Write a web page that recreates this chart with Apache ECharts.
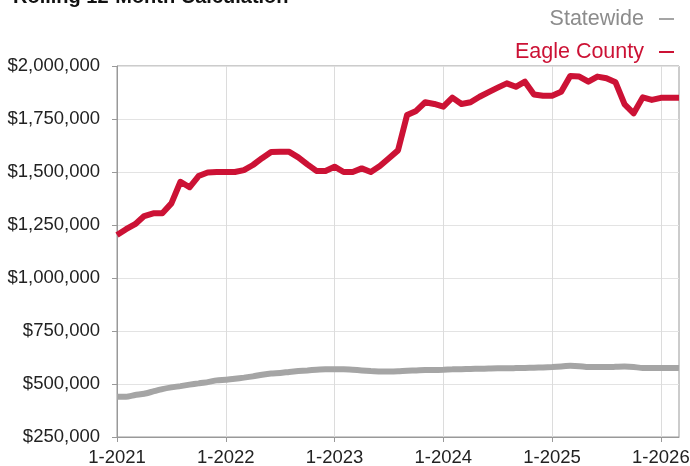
<!DOCTYPE html>
<html>
<head>
<meta charset="utf-8">
<script src="https://cdn.jsdelivr.net/npm/echarts@6/dist/echarts.min.js"></script>
<style>
  html, body { margin: 0; padding: 0; background: #fff; }
  #main { width: 690px; height: 466px; }
</style>
</head>
<body>
<div id="main"></div>
<script>
// Datos: mediana de precio, cálculo móvil de 12 meses (1-2021 a 3-2026)
const startYear = 2021;
const months = [];
for (let i = 0; i < 63; i++) {
  months.push(((i % 12) + 1) + "-" + (startYear + Math.floor(i / 12)));
}

const eagleCounty = [
  1203000, 1230000, 1254000, 1292000, 1305000, 1305000, 1352000, 1454000, 1428000, 1481000, 1498000, 1500000,
  1500000, 1500000, 1509000, 1533000, 1565000, 1594000, 1596000, 1595000, 1569000, 1536000, 1505000, 1505000,
  1525000, 1500000, 1500000, 1517000, 1500000, 1528000, 1565000, 1602000, 1769000, 1788000, 1829000, 1821000,
  1808000, 1851000, 1821000, 1829000, 1855000, 1877000, 1898000, 1918000, 1902000, 1926000, 1866000, 1860000,
  1860000, 1879000, 1953000, 1950000, 1926000, 1950000, 1942000, 1923000, 1819000, 1777000, 1852000, 1840000,
  1850000, 1850000, 1850000
];

const statewide = [
  440000, 440000, 448000, 454000, 465000, 476000, 484000, 490000, 497000, 503000, 509000, 517000,
  520000, 525000, 530000, 536000, 544000, 550000, 552000, 557000, 561000, 564000, 567000, 569000,
  569000, 569000, 567000, 564000, 561000, 559000, 559000, 560000, 563000, 564000, 566000, 566000,
  567000, 569000, 570000, 571000, 572000, 573000, 574000, 574000, 575000, 576000, 577000, 578000,
  580000, 583000, 586000, 584000, 580000, 580000, 580000, 581000, 582000, 580000, 576000, 576000,
  576000, 576000, 575000
];

const yTicks = { min: 250000, max: 2000000, step: 250000 };

const RED = "#cc1235";
const GREY = "#a5a5a5";
const FONT = "Liberation Sans";

const chart = echarts.init(document.getElementById("main"));

const isJanuary = (index) => index % 12 === 0;

const option = {
  animation: false,
  textStyle: { fontFamily: FONT },
  title: {
    text: "Rolling 12-Month Calculation",
    left: 8,
    top: -18,
    textStyle: { fontFamily: FONT, fontSize: 20, fontWeight: "bold", color: "#111" },
  },
  legend: {
    orient: "vertical",
    right: 11,
    top: 3,
    align: "right",
    itemGap: 11,
    itemWidth: 15,
    itemHeight: 2,
    icon: "rect",
    textStyle: { fontFamily: FONT, fontSize: 21.5, padding: [0, 10, 0, 0] },
    data: [
      { name: "Statewide", textStyle: { color: "#8c8c8c" } },
      { name: "Eagle County", textStyle: { color: RED } },
    ],
  },
  grid: {
    left: 117,
    right: 11,
    top: 66,
    bottom: 29,
    outerBoundsMode: "none",
    show: true,
    borderColor: "#999",
    borderWidth: 1,
  },
  xAxis: {
    type: "category",
    data: months,
    boundaryGap: false,
    axisLine: { lineStyle: { color: "#999" } },
    axisTick: { show: true, length: 5, interval: isJanuary, lineStyle: { color: "#999" } },
    axisLabel: {
      interval: isJanuary,
      color: "#222",
      fontSize: 18.5,
      margin: 11,
      hideOverlap: false,
    },
    splitLine: { show: true, interval: isJanuary, lineStyle: { color: "#dcdcdc" } },
  },
  yAxis: {
    type: "value",
    min: yTicks.min,
    max: yTicks.max,
    interval: yTicks.step,
    axisLine: { show: true, lineStyle: { color: "#999" } },
    axisTick: { show: true, length: 5, lineStyle: { color: "#999" } },
    axisLabel: {
      color: "#222",
      fontSize: 18.5,
      margin: 17,
      formatter: (v) => "$" + v.toLocaleString("en-US"),
    },
    splitLine: { lineStyle: { color: "#e3e3e3" } },
  },
  series: [
    {
      name: "Statewide",
      type: "line",
      data: statewide,
      showSymbol: false,
      smooth: 0.2,
      lineStyle: { color: GREY, width: 6 },
      itemStyle: { color: GREY },
    },
    {
      name: "Eagle County",
      type: "line",
      data: eagleCounty,
      showSymbol: false,
      lineStyle: { color: RED, width: 6, join: "round" },
      itemStyle: { color: RED },
    },
  ],
};

chart.setOption(option);
</script>
</body>
</html>
